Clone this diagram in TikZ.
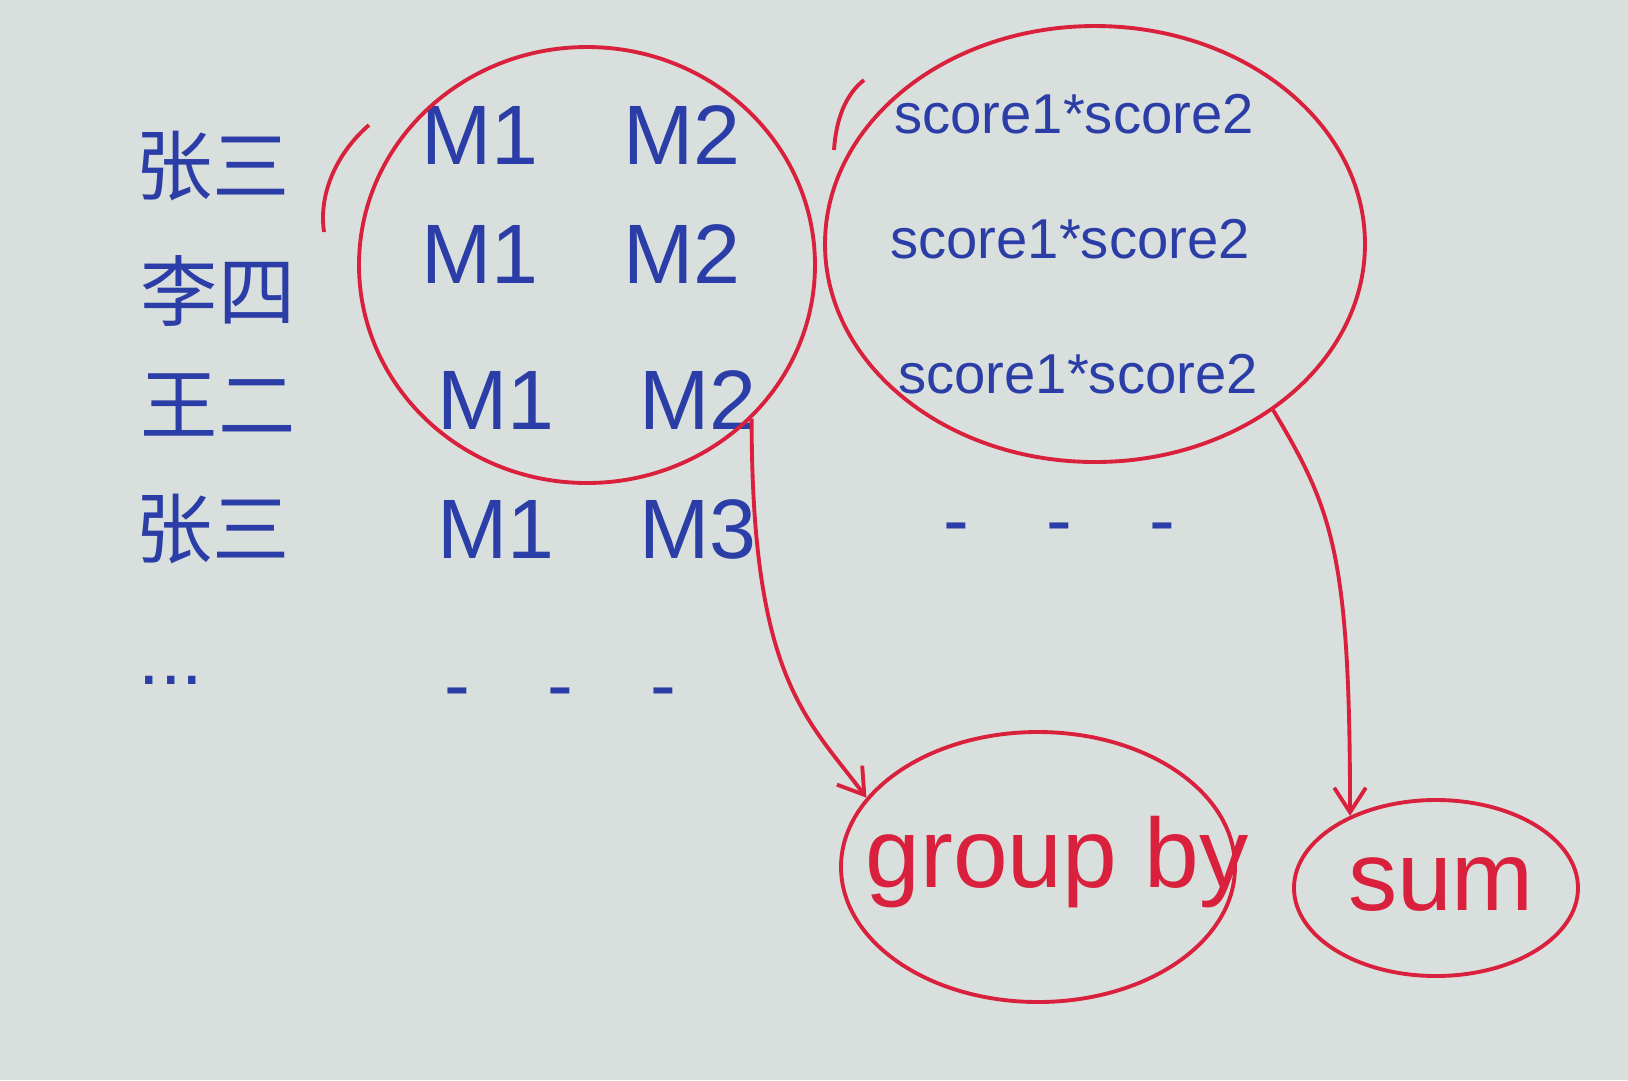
\documentclass[tikz,border=0pt]{standalone}
\usepackage{fontspec}
\setmainfont{Liberation Sans}
\newfontfamily\cjk{Noto Sans CJK SC}
\usetikzlibrary{arrows.meta,shapes.geometric}
\definecolor{paper}{HTML}{D9DFDC}
\definecolor{inkblue}{HTML}{2B3DA6}
\definecolor{inkred}{HTML}{D9203C}
\tikzset{
  cname/.style={text=inkblue,font=\cjk\fontsize{22}{24}\selectfont},
  mtext/.style={text=inkblue,font=\fontsize{24}{26}\selectfont},
  stext/.style={text=inkblue,font=\fontsize{16}{18}\selectfont},
  dotrow/.style={text=inkblue,font=\fontsize{22}{24}\selectfont},
  rtext/.style={text=inkred,font=\fontsize{28}{30}\selectfont},
  ring/.style={draw=inkred,line width=1.1pt,ellipse,inner sep=0pt},
  stroke/.style={draw=inkred,line width=1.1pt},
  conn/.style={draw=inkred,line width=1.1pt,-{Straight Barb[length=7pt,width=9pt]}},
}
\begin{document}
\begin{tikzpicture}[x=0.1mm,y=-0.1mm]
\fill[paper] (0,0) rectangle (1628,1080);
\useasboundingbox (0,0) rectangle (1628,1080);
% names
\node[cname] (n1) at (213,166) {张三};
\node[cname] (n2) at (218,291) {李四};
\node[cname] (n3) at (218,405) {王二};
\node[cname] (n4) at (213,529) {张三};
\node[dotrow] (n5) at (171,680) {...};
% M columns
\node[mtext] (m1) at (581,135) {M1\quad M2};
\node[mtext] (m2) at (581,254) {M1\quad M2};
\node[mtext] (m3) at (597,400) {M1\quad M2};
\node[mtext] (m4) at (597,529) {M1\quad M3};
\node[dotrow] (m5) at (560,700) {-\quad -\quad -};
% scores
\node[stext] (s1) at (1074,114) {score1*score2};
\node[stext] (s2) at (1070,239) {score1*score2};
\node[stext] (s3) at (1078,374) {score1*score2};
\node[dotrow] (s4) at (1059,535) {-\quad -\quad -};
% rings
\node[ring,minimum width=45.6mm,minimum height=43.6mm] (lc) at (587,265) {};
\node[ring,minimum width=54mm,minimum height=43.6mm] (rc) at (1095,244) {};
\node[ring,minimum width=39.4mm,minimum height=27mm] (gb) at (1038,867) {};
\node[rtext] (gbt) at (1057,862) {group by};
\node[ring,minimum width=28.4mm,minimum height=17.6mm] (sm) at (1436,888) {};
\node[rtext] (smt) at (1441,884) {sum};
% stray pen strokes
\draw[stroke] (324,232) .. controls (318,190) and (340,150) .. (369,125);
\draw[stroke] (834,150) .. controls (836,120) and (845,95) .. (864,80);
% connectors
\draw[conn] (lc.-43) .. controls +(0,260) and +(-60,-80) .. (gb.158);
\draw[conn] (rc.-43) .. controls +(60,100) and +(0,-260) .. (sm.140);
\end{tikzpicture}
\end{document}
